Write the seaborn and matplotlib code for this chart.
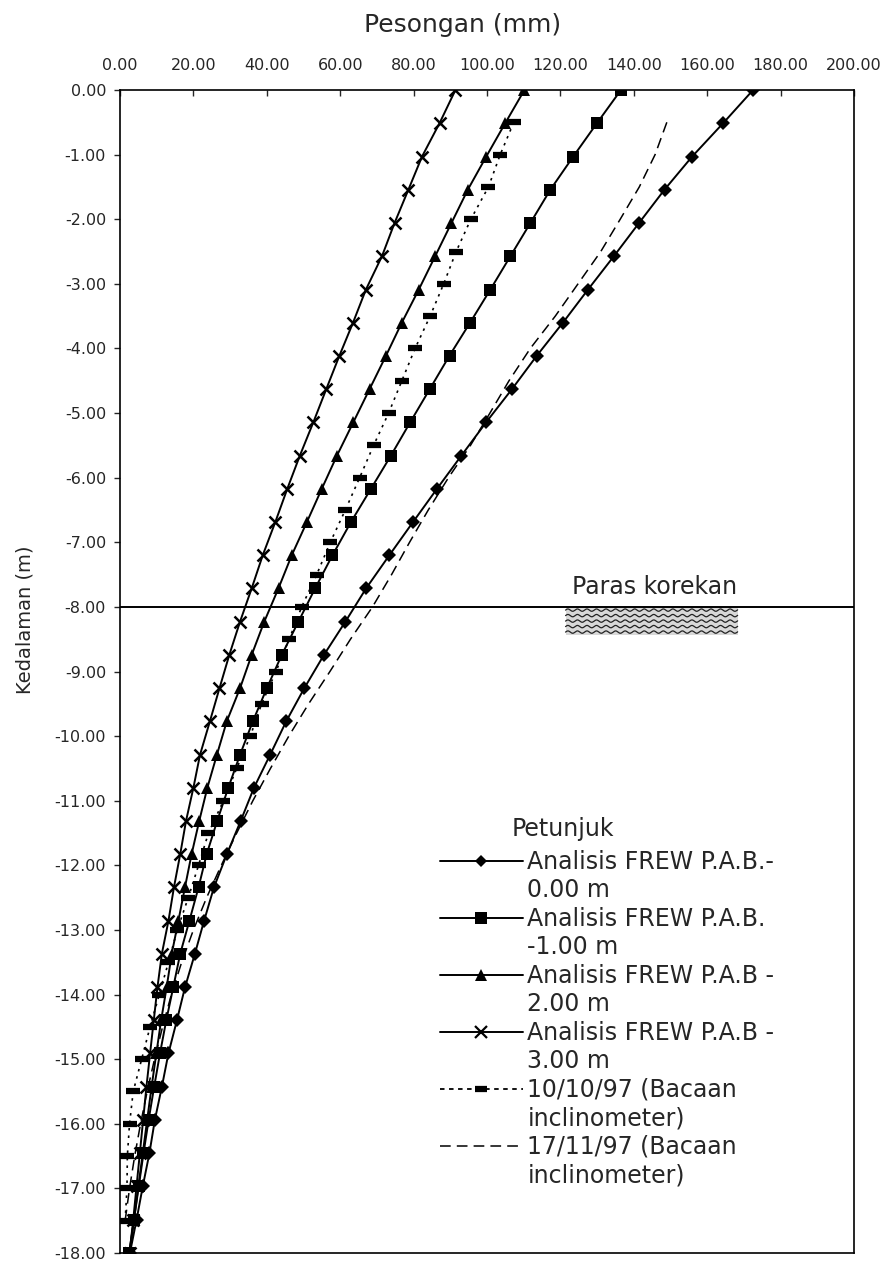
import numpy as np
import matplotlib
matplotlib.use("Agg")
import matplotlib.pyplot as plt
from matplotlib.lines import Line2D
from matplotlib.patches import Rectangle
import seaborn as sns

# FREW analysis nodes along the wall (m)
depth_frew = [0.00, -0.51, -1.03, -1.54, -2.06, -2.57, -3.09, -3.60, -4.11, -4.63,
              -5.14, -5.66, -6.17, -6.69, -7.20, -7.71, -8.23, -8.74, -9.26, -9.77,
              -10.29, -10.80, -11.31, -11.83, -12.34, -12.86, -13.37, -13.89, -14.40,
              -14.91, -15.43, -15.94, -16.46, -16.97, -17.49, -18.00]

# Wall deflection (mm) from FREW for each groundwater level (P.A.B.)
frew_pab_000 = [172.5, 164.4, 155.9, 148.4, 141.4, 134.6, 127.5, 120.7,
                113.6, 106.8, 99.8, 93.0, 86.4, 79.8, 73.4, 67.1, 61.4, 55.6, 50.2,
                45.3, 40.9, 36.5, 32.9, 29.1, 25.6, 22.9, 20.4, 17.7,
                15.5, 13.2, 11.4, 9.5, 8.0, 6.2, 4.5, 2.7]
frew_pab_100 = [136.5, 130.0, 123.5, 117.3, 111.8, 106.4, 100.9, 95.4,
                89.8, 84.4, 79.1, 73.8, 68.4, 62.9, 57.9, 53.2, 48.6, 44.1, 40.0,
                36.2, 32.7, 29.5, 26.5, 23.6, 21.4, 18.9, 16.4, 14.5,
                12.6, 10.9, 9.3, 7.8, 6.4, 5.1, 3.8, 2.5]
frew_pab_200 = [110.2, 105.0, 99.8, 94.8, 90.3, 85.9, 81.4, 76.8,
                72.5, 68.0, 63.6, 59.1, 55.0, 50.9, 46.8, 43.2, 39.3, 35.9, 32.7,
                29.1, 26.4, 23.8, 21.6, 19.5, 17.7, 15.9, 14.1, 12.7,
                11.2, 9.9, 8.6, 7.4, 6.2, 5.0, 3.8, 2.6]
frew_pab_300 = [91.4, 87.1, 82.3, 78.6, 74.8, 71.4, 67.0, 63.5,
                59.8, 56.2, 52.7, 49.0, 45.6, 42.3, 38.9, 35.9, 32.7, 29.8, 27.1,
                24.5, 21.8, 20.0, 18.0, 16.4, 14.7, 13.2, 11.4, 10.2,
                9.2, 8.2, 7.2, 6.3, 5.4, 4.5, 3.6, 2.6]

# Inclinometer reading depths (m) and deflections (mm)
depth_incl = [-0.5, -1.0, -1.5, -2.0, -2.5, -3.0, -3.5, -4.0, -4.5, -5.0,
              -5.5, -6.0, -6.5, -7.0, -7.5, -8.0, -8.5, -9.0, -9.5, -10.0,
              -10.5, -11.0, -11.5, -12.0, -12.5, -13.0, -13.5, -14.0, -14.5,
              -15.0, -15.5, -16.0, -16.5, -17.0, -17.5]
incl_101097 = [107.3, 103.6, 100.4, 95.6, 91.6, 88.2, 84.5, 80.4, 76.8, 73.2,
               69.1, 65.3, 61.4, 57.3, 53.6, 49.5, 46.1, 42.5, 38.6, 35.5,
               31.8, 28.2, 24.1, 21.4, 18.6, 15.6, 13.2, 10.7, 8.2,
               5.9, 3.6, 2.6, 2.0, 1.9, 1.4]
incl_171197 = [149.0, 145.8, 141.5, 136.3, 131.0, 124.8, 118.6, 111.8, 106.0, 100.8,
               95.5, 89.5, 84.0, 78.9, 74.0, 68.8, 62.8, 57.2, 51.4, 46.0,
               41.0, 36.2, 31.8, 27.6, 23.6, 20.0, 16.8, 14.0, 11.6,
               9.4, 7.4, 5.6, 4.0, 2.6, 1.4]

x_ticks = [0, 20, 40, 60, 80, 100, 120, 140, 160, 180, 200]
y_ticks = [0, -1, -2, -3, -4, -5, -6, -7, -8, -9, -10, -11, -12, -13, -14, -15, -16, -17, -18]

excavation_level = -8.0
excavation_label = "Paras korekan"
label_pos = (123.2, -7.80)
soil_box = (121.4, 168.3, -8.43, -8.0)   # x0, x1, y0, y1

legend_labels = ["Analisis FREW P.A.B.-", "0.00 m",
                 "Analisis FREW P.A.B.", "-1.00 m",
                 "Analisis FREW P.A.B -", "2.00 m",
                 "Analisis FREW P.A.B -", "3.00 m",
                 "10/10/97 (Bacaan", "inclinometer)",
                 "17/11/97 (Bacaan", "inclinometer)"]

sns.set_style("ticks")
plt.rcParams["font.family"] = ["DejaVu Sans"]
plt.rcParams["axes.linewidth"] = 1.2

W, H = 884, 1264
fig = plt.figure(figsize=(W / 100, H / 100), dpi=100)
ax = fig.add_axes([120 / W, 1 - 1253 / H, 734 / W, (1253 - 90) / H])

lw = 1.4
style = dict(color="black", linewidth=lw, sort=False, estimator=None, ax=ax,
             markeredgecolor="black")
sns.lineplot(x=frew_pab_000, y=depth_frew, marker="D", markersize=7.5, markeredgewidth=0, **style)
sns.lineplot(x=frew_pab_100, y=depth_frew, marker="s", markersize=9, markeredgewidth=0, **style)
sns.lineplot(x=frew_pab_200, y=depth_frew, marker="^", markersize=9, markeredgewidth=0, **style)
sns.lineplot(x=frew_pab_300, y=depth_frew, marker="x", markersize=9, markeredgewidth=1.8, **style)
sns.lineplot(x=incl_101097, y=depth_incl, color="black", linewidth=1.2, linestyle=(0, (1.5, 3)),
             marker="_", markersize=10, markeredgewidth=4.5, markeredgecolor="black",
             sort=False, estimator=None, ax=ax)
sns.lineplot(x=incl_171197, y=depth_incl, color="black", linewidth=1.1, linestyle=(0, (7, 4)),
             sort=False, estimator=None, ax=ax)

# Excavation level line with its soil symbol
ax.axhline(excavation_level, color="black", linewidth=1.4, zorder=3)
ax.text(label_pos[0], label_pos[1], excavation_label, fontsize=17, ha="left", va="baseline")
x0, x1, y0, y1 = soil_box
ax.add_patch(Rectangle((x0, y0), x1 - x0, y1 - y0, facecolor="#d8d8d8", edgecolor="none", zorder=1))
xs = np.linspace(x0, x1, 300)
for k in range(5):
    yc = y1 - 0.05 - k * 0.085
    ax.plot(xs, yc + 0.018 * np.sin(2 * np.pi * (xs - x0) / 2.6), color="#222222", lw=0.9, zorder=2)

ax.set_xlim(0, 200)
ax.set_ylim(-18, 0)
ax.xaxis.tick_top()
ax.set_xticks(x_ticks)
ax.set_yticks(y_ticks)
ax.set_xticklabels([f"{v:.2f}" for v in x_ticks])
ax.set_yticklabels([f"{v:.2f}" for v in y_ticks])
ax.tick_params(axis="x", direction="in", length=4, width=1.0, labelsize=11.5, pad=12)
ax.tick_params(axis="y", direction="out", length=4, width=1.0, labelsize=11.5, pad=6)
for s in ax.spines.values():
    s.set_visible(True)
    s.set_color("black")
ax.set_xlabel("")
ax.set_ylabel("")

fig.text(463 / W, 1 - 25 / H, "Pesongan (mm)", fontsize=18, ha="center", va="center")
fig.text(25 / W, 1 - 620 / H, "Kedalaman (m)", fontsize=14, rotation=90, ha="center", va="center")

# Legend: each entry spans two text rows, the handle sits on the first one
blank = Line2D([], [], linestyle="none")
handles = [
    Line2D([], [], color="black", lw=lw, marker="D", ms=6, mew=0), blank,
    Line2D([], [], color="black", lw=lw, marker="s", ms=8, mew=0), blank,
    Line2D([], [], color="black", lw=lw, marker="^", ms=8, mew=0), blank,
    Line2D([], [], color="black", lw=lw, marker="x", ms=8, mew=1.6), blank,
    Line2D([], [], color="black", lw=1.3, ls=(0, (2.5, 2.5)), marker="_", ms=9, mew=4.5), blank,
    Line2D([], [], color="black", lw=1.1, ls=(0, (7, 4))), blank,
]
fig.text(512 / W, 1 - 829 / H, "Petunjuk", fontsize=17, ha="left", va="center")
fig.legend(handles, legend_labels, loc="upper left", bbox_to_anchor=(440 / W, 1 - 850 / H),
           frameon=False, fontsize=17, handlelength=3.5, handletextpad=0.2,
           labelspacing=0.19, borderpad=0, borderaxespad=0, numpoints=1)

fig.savefig("out.png", dpi=100)
